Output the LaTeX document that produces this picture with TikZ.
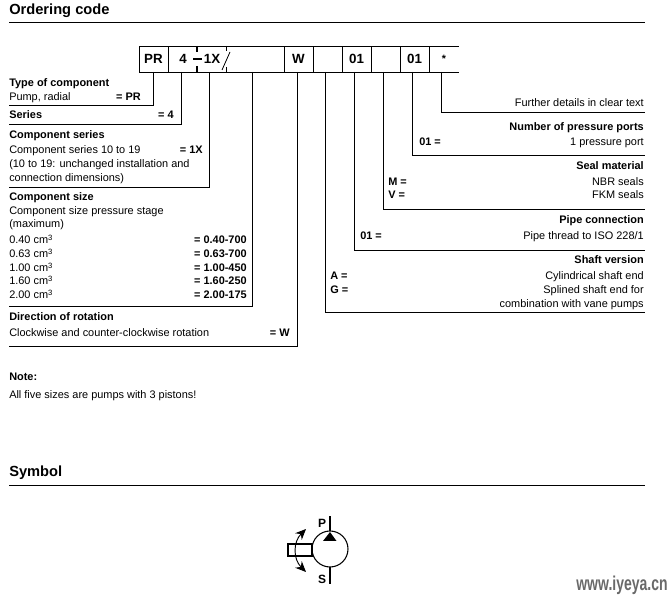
\documentclass[tikz,border=0pt]{standalone}
\usepackage{fontspec}
\setmainfont{Liberation Sans}
\usetikzlibrary{arrows.meta}
\definecolor{markgrau}{RGB}{105,105,105}
\tikzset{
  txt/.style={inner sep=0pt,font=\fontsize{8.2}{10}\selectfont},
  lft/.style={txt,anchor=base west},
  rgt/.style={txt,anchor=base east},
  boldlft/.style={lft,font=\fontsize{8.2}{10}\selectfont\bfseries},
  boldrgt/.style={rgt,font=\fontsize{8.2}{10}\selectfont\bfseries},
  headtxt/.style={lft,font=\fontsize{11}{13}\selectfont\bfseries},
  codecell/.style={draw,line width=0.7pt,outer sep=0pt,minimum height=19.5pt,inner sep=0pt,font=\fontsize{10}{12}\selectfont\bfseries},
  leader/.style={line width=0.65pt},
}
\begin{document}
\begin{tikzpicture}[x=0.75pt,y=-0.75pt]
    \useasboundingbox (0,0) rectangle (672,598);

    % headings
    \node[headtxt] (ordering) at (9,15) {Ordering code};
    \node[headtxt] (symbol) at (9,477) {Symbol};
    \coordinate (rule1a) at (9,22);
    \coordinate (rule1b) at (645,22);
    \coordinate (rule2a) at (9,485);
    \coordinate (rule2b) at (645,485);
    \draw[leader] (rule1a) -- (rule1b);
    \draw[leader] (rule2a) -- (rule2b);

    % code strip
    \node[codecell,minimum width=21.75pt] (pr) at (153.5,59) {PR};
    \node[codecell,minimum width=87pt] (mid) at (226,59) {};
    \node[codecell,minimum width=21.75pt] (w) at (298.5,59) {W};
    \node[codecell,minimum width=21.75pt] (free1) at (327.5,59) {};
    \node[codecell,minimum width=21.75pt] (port1) at (356.5,59) {01};
    \node[codecell,minimum width=21.75pt] (free2) at (385.5,59) {};
    \node[codecell,minimum width=21.75pt] (port2) at (414.5,59) {01};
    \node[codecell,draw=none,minimum width=22.5pt,font=\fontsize{8}{9}\selectfont\bfseries] (star) at (444,59) {*};
    \draw[line width=0.7pt] (star.north west) -- (star.north east);
    \draw[line width=0.7pt] (star.south west) -- (star.south east);
    \node[codecell,draw=none,minimum width=0pt] (four) at (183,59) {4};
    \node[codecell,draw=none,minimum width=0pt] (onex) at (212,59) {1X};

    % separator marks in the strip
    \coordinate (bar1) at (197,46);
    \coordinate (bar2) at (197,52);
    \coordinate (bar3) at (197,66);
    \coordinate (bar4) at (197,72);
    \coordinate (dash1) at (193,59);
    \coordinate (dash2) at (202,59);
    \coordinate (slash1) at (230,52);
    \coordinate (slash2) at (222,70);
    \coordinate (tick1) at (226,46);
    \coordinate (tick2) at (226,51);
    \coordinate (tick3) at (226,67);
    \coordinate (tick4) at (226,72);
    \draw[line width=2.2pt] (bar1) -- (bar2);
    \draw[line width=2.2pt] (bar3) -- (bar4);
    \draw[line width=0.8pt] (dash1) -- (dash2);
    \draw[line width=0.6pt] (slash1) -- (slash2);
    \draw[line width=0.4pt] (tick1) -- (tick2);
    \draw[line width=0.4pt] (tick3) -- (tick4);

    % leader lines, left side
    \coordinate (t1) at (153,72);
    \coordinate (t2) at (181,72);
    \coordinate (t3) at (209.5,72);
    \coordinate (t4) at (252.5,72);
    \coordinate (t5) at (297,72);
    \coordinate (e1) at (9,105);
    \coordinate (e2) at (9,124);
    \coordinate (e3) at (9,187);
    \coordinate (e4) at (9,306);
    \coordinate (e5) at (9,346);
    \draw[leader] (t1) |- (e1);
    \draw[leader] (t2) |- (e2);
    \draw[leader] (t3) |- (e3);
    \draw[leader] (t4) |- (e4);
    \draw[leader] (t5) |- (e5);

    % leader lines, right side
    \coordinate (t6) at (325,72);
    \coordinate (t7) at (354,72);
    \coordinate (t8) at (383,72);
    \coordinate (t9) at (412,72);
    \coordinate (t10) at (441,72);
    \coordinate (e6) at (645,312);
    \coordinate (e7) at (645,250);
    \coordinate (e8) at (645,209);
    \coordinate (e9) at (645,155);
    \coordinate (e10) at (645,112);
    \draw[leader] (t6) |- (e6);
    \draw[leader] (t7) |- (e7);
    \draw[leader] (t8) |- (e8);
    \draw[leader] (t9) |- (e9);
    \draw[leader] (t10) |- (e10);

    % left column
    \node[boldlft] (type) at (9,87) {Type of component};
    \node[lft] (radial) at (9,101) {Pump, radial};
    \node[boldrgt] (eqpr) at (141,101) {= PR};
    \node[boldlft] (series) at (9,119) {Series};
    \node[boldrgt] (eqfour) at (174,119) {= 4};
    \node[boldlft] (cseries) at (9,139) {Component series};
    \node[lft] (cseries1) at (9,154) {Component series 10 to 19};
    \node[boldrgt] (eqonex) at (203,154) {= 1X};
    \node[lft] (cseries2) at (9,168) {(10 to 19: unchanged installation and};
    \node[lft] (cseries3) at (9,182) {connection dimensions)};
    \node[boldlft] (csize) at (9,201) {Component size};
    \node[lft] (csize1) at (9,215) {Component size pressure stage};
    \node[lft] (csize2) at (9,228) {(maximum)};
    \node[lft] (s040) at (9,244) {0.40 cm\textsuperscript{3}};
    \node[lft] (s063) at (9,258) {0.63 cm\textsuperscript{3}};
    \node[lft] (s100) at (9,272) {1.00 cm\textsuperscript{3}};
    \node[lft] (s160) at (9,285) {1.60 cm\textsuperscript{3}};
    \node[lft] (s200) at (9,299) {2.00 cm\textsuperscript{3}};
    \node[boldrgt] (eq040) at (247,244) {= 0.40-700};
    \node[boldrgt] (eq063) at (247,258) {= 0.63-700};
    \node[boldrgt] (eq100) at (247,272) {= 1.00-450};
    \node[boldrgt] (eq160) at (247,285) {= 1.60-250};
    \node[boldrgt] (eq200) at (247,299) {= 2.00-175};
    \node[boldlft] (dir) at (9,321) {Direction of rotation};
    \node[lft] (dir1) at (9,337) {Clockwise and counter-clockwise rotation};
    \node[boldrgt] (eqw) at (290,337) {= W};

    % right column
    \node[rgt] (further) at (644,107) {Further details in clear text};
    \node[boldrgt] (ports) at (644,131) {Number of pressure ports};
    \node[boldlft] (eqport) at (419,146) {01 =};
    \node[rgt] (ports1) at (644,146) {1 pressure port};
    \node[boldrgt] (seal) at (644,170) {Seal material};
    \node[boldlft] (eqm) at (388,186) {M =};
    \node[rgt] (nbr) at (644,186) {NBR seals};
    \node[boldlft] (eqv) at (388,199) {V =};
    \node[rgt] (fkm) at (644,199) {FKM seals};
    \node[boldrgt] (pipe) at (644,224) {Pipe connection};
    \node[boldlft] (eqpipe) at (360,240) {01 =};
    \node[rgt] (pipe1) at (644,240) {Pipe thread to ISO 228/1};
    \node[boldrgt] (shaft) at (644,264) {Shaft version};
    \node[boldlft] (eqa) at (330,280) {A =};
    \node[rgt] (cyl) at (644,280) {Cylindrical shaft end};
    \node[boldlft] (eqg) at (330,294) {G =};
    \node[rgt] (spl) at (644,294) {Splined shaft end for};
    \node[rgt] (vane) at (644,308) {combination with vane pumps};

    % note
    \node[boldlft] (note) at (9,381) {Note:};
    \node[lft] (note1) at (9,399) {All five sizes are pumps with 3 pistons!};

    % pump symbol
    \node[circle,draw,line width=0.8pt,outer sep=0pt,minimum size=27pt,inner sep=0pt] (pump) at (330,549) {};
    \node[draw,line width=0.8pt,outer sep=0pt,anchor=east,minimum width=18pt,minimum height=9pt,inner sep=0pt] (shaftbox) at ([yshift=-0.75pt]pump.west) {};
    \coordinate (pend) at (330,516);
    \coordinate (send) at (330,584);
    \draw[line width=0.8pt] (pump.north) -- (pend);
    \draw[line width=0.8pt] (pump.south) -- (send);
    \coordinate (tria) at (330,532);
    \coordinate (trib) at (323,541);
    \coordinate (tric) at (336.5,541);
    \fill (tria) -- (trib) -- (tric) -- cycle;
    \node[boldlft,anchor=center,font=\fontsize{9}{10}\selectfont\bfseries] (plabel) at (322,523) {P};
    \node[boldlft,anchor=center,font=\fontsize{9}{10}\selectfont\bfseries] (slabel) at (322,579) {S};
    \coordinate (rot1) at (306,529);
    \coordinate (rot2) at (306,572);
    \draw[{Stealth[length=8pt,width=7pt]}-{Stealth[length=8pt,width=7pt]},line width=0.7pt] (rot1) .. controls (293,542) and (293,559) .. (rot2);

    % site mark
    \node[inner sep=0pt,text=markgrau,font=\fontsize{15}{16}\selectfont\bfseries] (site) at (622,585) {\scalebox{.7}[1]{www.iyeya.cn}};
\end{tikzpicture}
\end{document}
